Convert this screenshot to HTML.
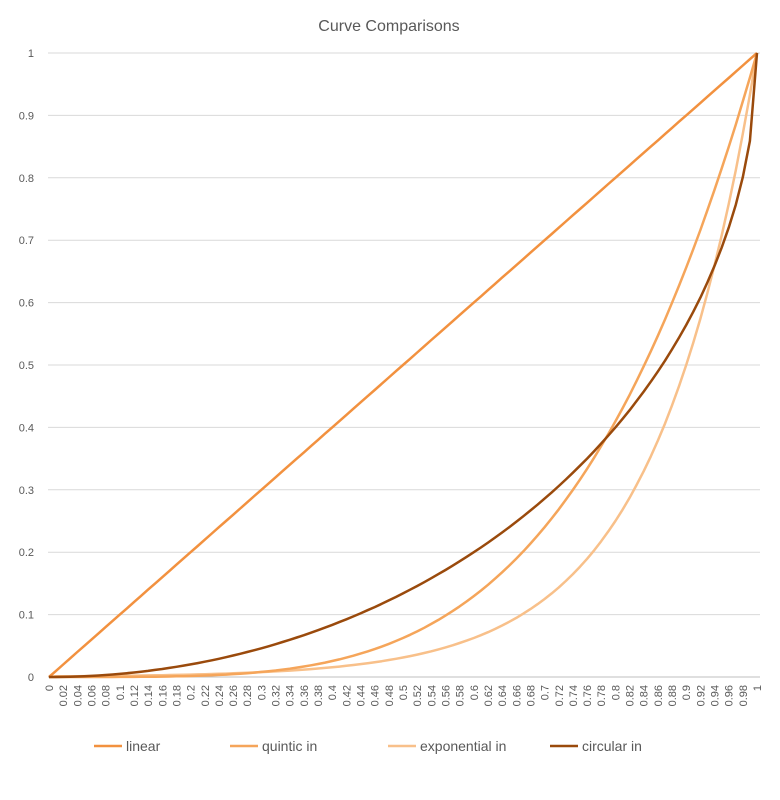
<!DOCTYPE html>
<html><head><meta charset="utf-8"><style>body{margin:0;background:#fff}svg{display:block;font-family:"Liberation Sans",sans-serif}</style></head><body>
<svg id="s" width="780" height="800" xmlns="http://www.w3.org/2000/svg">
<rect width="780" height="800" fill="#fff"/>
<text x="389" y="31" font-size="16" fill="#595959" text-anchor="middle">Curve Comparisons</text>
<g id="g"></g>
</svg>
<script>
const g=document.getElementById('g');const NS='http://www.w3.org/2000/svg';
const X0=49,X1=757,Y0=677,Y1=53;
const sx=x=>X0+(X1-X0)*x, sy=y=>Y0-(Y0-Y1)*y;
let h='';
for(let i=0;i<=10;i++){const y=sy(i/10);h+=`<line x1="${X0-1}" x2="760" y1="${y}" y2="${y}" stroke="${i?'#d9d9d9':'#bfbfbf'}" stroke-width="1"/>`;
h+=`<text x="34" y="${y+4}" font-size="11" fill="#595959" text-anchor="end">${+(i/10).toFixed(1)}</text>`;}
for(let i=0;i<=50;i++){const v=+(i/50).toFixed(2);const x=sx(i/50)+4;h+=`<text transform="translate(${x},685) rotate(-90)" font-size="11" fill="#595959" text-anchor="end">${v}</text>`;}
const fs=[[x=>x,'#F2913F'],[x=>x**4,'#F5A55A'],[x=>x==0?0:Math.pow(2,10*(x-1)),'#F8C08A'],[x=>1-Math.sqrt(1-x*x),'#9A4A0C']];
const order=[2,1,0,3];
for(const k of order){const [f,c]=fs[k];let p='';for(let i=0;i<=100;i++){const x=i/100;p+=(i?'L':'M')+sx(x).toFixed(1)+','+sy(f(x)).toFixed(1);}
h+=`<path d="${p}" fill="none" stroke="${c}" stroke-width="2.5" stroke-linejoin="round"/>`;}
const lg=[[94,'linear',0],[230,'quintic in',1],[388,'exponential in',2],[550,'circular in',3]];
for(const [x,t,k] of lg){h+=`<line x1="${x}" x2="${x+28}" y1="746" y2="746" stroke="${fs[k][1]}" stroke-width="2.5"/><text x="${x+32}" y="751" font-size="14" fill="#595959">${t}</text>`;}
g.innerHTML=h;
</script>
</body></html>
